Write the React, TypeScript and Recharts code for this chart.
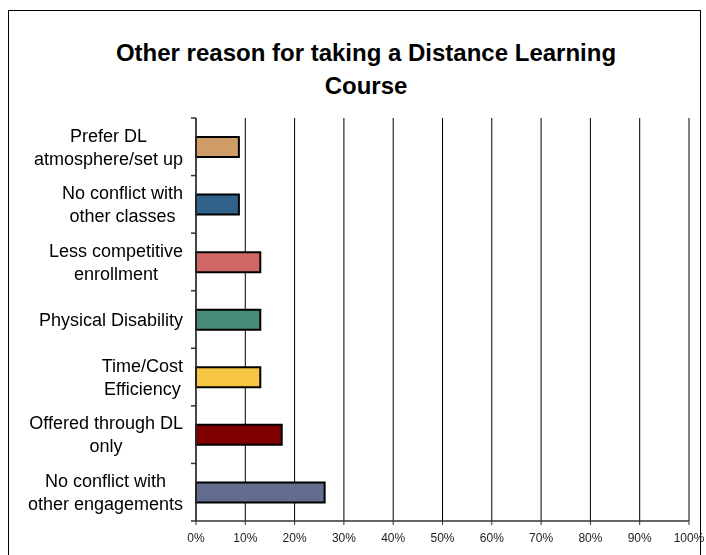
import { BarChart, Bar, XAxis, YAxis, CartesianGrid, Cell } from "recharts";

const categories = [
  "Prefer DL\natmosphere/set up",
  "No conflict with\nother classes",
  "Less competitive\nenrollment",
  "Physical Disability",
  "Time/Cost\nEfficiency",
  "Offered through DL\nonly",
  "No conflict with\nother engagements",
];
const shares = [8.7, 8.7, 13.04, 13.04, 13.04, 17.39, 26.09];
const barColors = ["#D09C68", "#31628C", "#D06666", "#488A7A", "#F6C543", "#800000", "#626C8F"];
const xTicks = [0, 10, 20, 30, 40, 50, 60, 70, 80, 90, 100];

const data = categories.map((name, i) => ({ name, value: shares[i] }));

const FONT = "'Liberation Sans', Arial, sans-serif";
const CHART_W = 697;
const CHART_H = 545;
const MARGIN = { top: 107, right: 17, bottom: 5, left: 0 };
const Y_W = 187;
const X_H = 30;
const PLOT_H = CHART_H - MARGIN.top - MARGIN.bottom - X_H;
const BAND = PLOT_H / categories.length;
const LABEL_FONT = 18;
const LINE_H = 23;

let ctx: CanvasRenderingContext2D | null = null;
function textWidth(s: string) {
  if (!ctx) ctx = document.createElement("canvas").getContext("2d");
  if (!ctx) return s.length * LABEL_FONT * 0.5;
  ctx.font = `${LABEL_FONT}px ${FONT}`;
  return ctx.measureText(s).width;
}

function CategoryTick(props: any) {
  const { x, y, payload, index } = props;
  const lines = String(payload.value).split("\n");
  const blockW = Math.max(...lines.map(textWidth));
  const cx = x - 13 - blockW / 2;
  const top = y - ((lines.length - 1) * LINE_H) / 2;
  return (
    <g>
      <line x1={x - 5} x2={x} y1={y - BAND / 2} y2={y - BAND / 2} stroke="#333" strokeWidth={1.5} />
      {index === categories.length - 1 && (
        <line x1={x - 5} x2={x} y1={y + BAND / 2} y2={y + BAND / 2} stroke="#333" strokeWidth={1.5} />
      )}
      <text textAnchor="middle" fontSize={LABEL_FONT} fontFamily={FONT} fill="#000">
        {lines.map((l, i) => (
          <tspan key={i} x={cx} y={top + i * LINE_H} dy="0.35em">
            {l}
          </tspan>
        ))}
      </text>
    </g>
  );
}

export default function App() {
  return (
    <div
      style={{
        position: "fixed",
        left: 8,
        top: 10,
        width: 691,
        height: 560,
        border: "1px solid #000",
        background: "#fff",
        fontFamily: FONT,
      }}
    >
      <div
        style={{
          position: "absolute",
          left: 57,
          top: 25,
          width: 600,
          textAlign: "center",
          fontWeight: "bold",
          fontSize: 24,
          lineHeight: "33px",
          whiteSpace: "nowrap",
          color: "#000",
        }}
      >
        Other reason for taking a Distance Learning
        <br />
        Course
      </div>
      <div style={{ position: "absolute", left: 0, top: 0 }}>
        <BarChart
          width={CHART_W}
          height={CHART_H}
          data={data}
          layout="vertical"
          margin={MARGIN}
          barSize={20}
          style={{ overflow: "visible" }}
        >
          <CartesianGrid horizontal={false} stroke="#000" strokeWidth={1} />
          <XAxis
            type="number"
            domain={[0, 100]}
            ticks={xTicks}
            tickFormatter={(v) => `${v}%`}
            interval={0}
            height={X_H}
            tickSize={4}
            tickMargin={8}
            axisLine={{ stroke: "#333", strokeWidth: 1.5 }}
            tickLine={{ stroke: "#333" }}
            tick={{ fontSize: 12, fontFamily: FONT, fill: "#222" }}
          />
          <XAxis
            xAxisId="top"
            orientation="top"
            type="number"
            domain={[0, 100]}
            height={0}
            tick={false}
            tickLine={false}
            axisLine={{ stroke: "#000", strokeWidth: 1 }}
          />
          <YAxis
            type="category"
            dataKey="name"
            width={Y_W}
            interval={0}
            tickSize={0}
            tickMargin={0}
            tickLine={false}
            axisLine={{ stroke: "#333", strokeWidth: 1.5 }}
            tick={<CategoryTick />}
          />
          <Bar dataKey="value" stroke="#000" strokeWidth={2} isAnimationActive={false}>
            {data.map((d, i) => (
              <Cell key={d.name} fill={barColors[i]} />
            ))}
          </Bar>
        </BarChart>
      </div>
    </div>
  );
}
